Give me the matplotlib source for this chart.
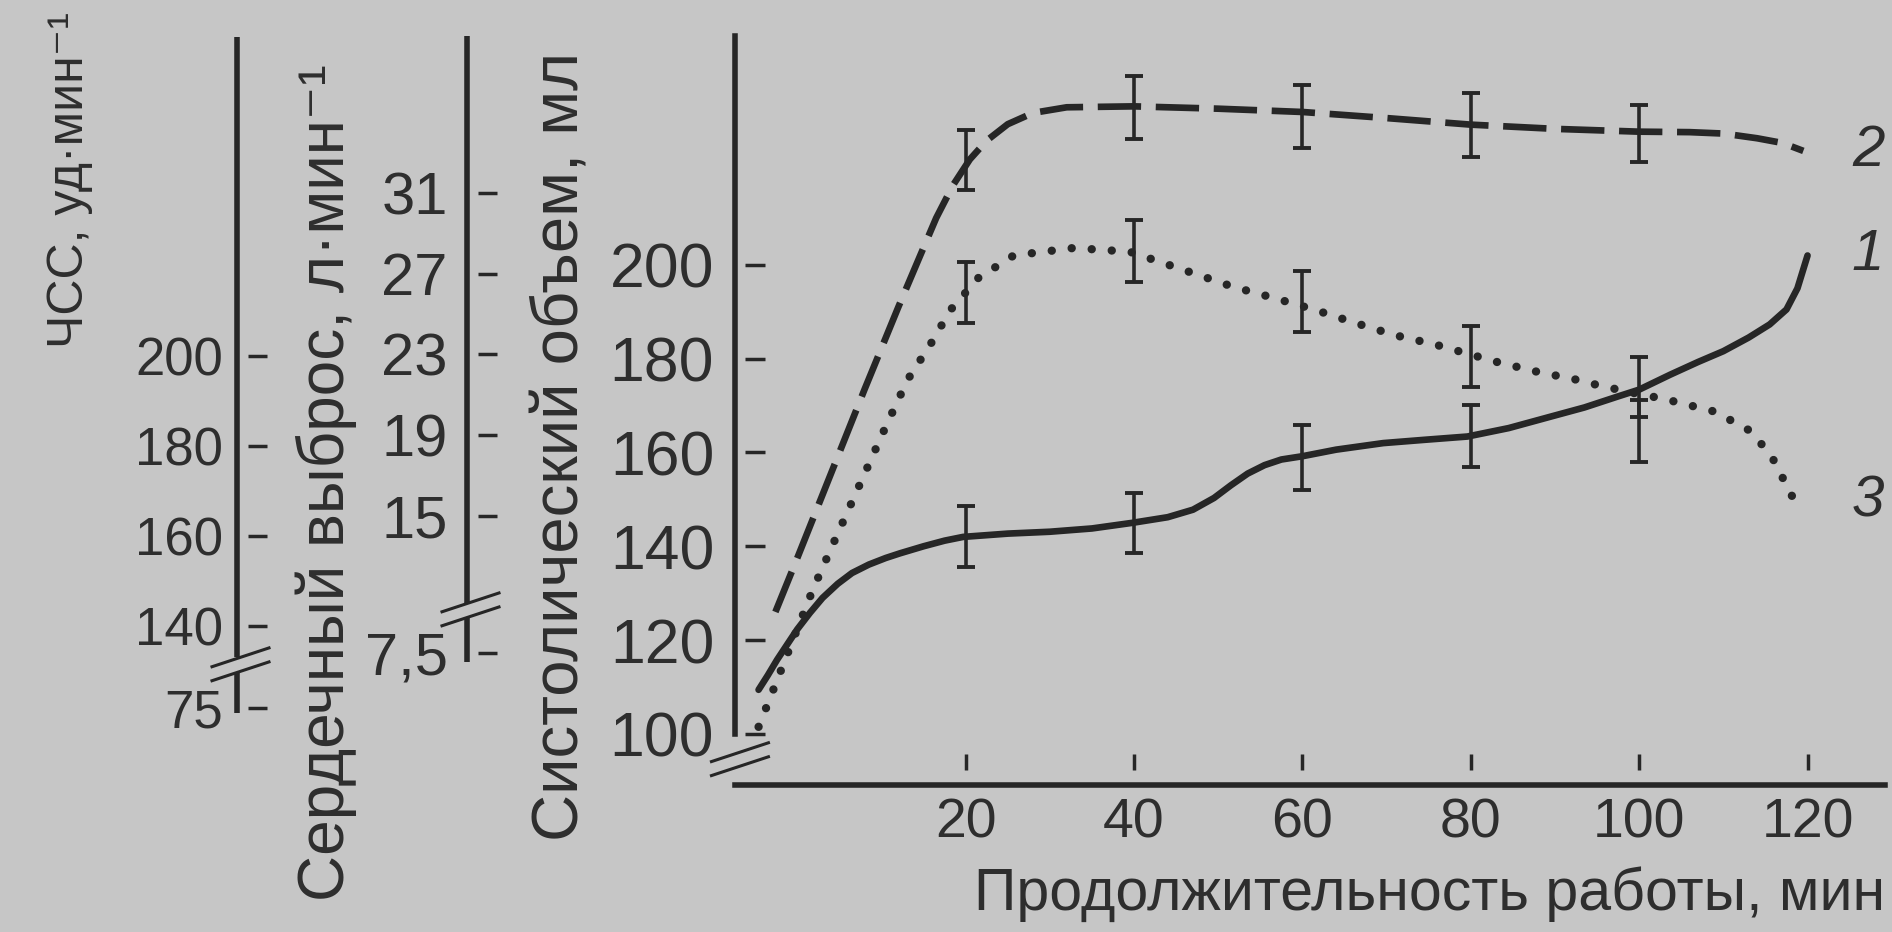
import matplotlib
matplotlib.use("Agg")
import matplotlib.pyplot as plt
from matplotlib.lines import Line2D
from matplotlib.transforms import IdentityTransform

# --- data -----------------------------------------------------------------
# time points with error bars (min)
bar_minutes = [20, 40, 60, 80, 100]

# curve 1 (solid) - ЧСС, drawn on the stroke-volume scale of the main axes
hr_mean = [142.0, 145.0, 159.0, 163.5, 164.6]
hr_err = [6.5, 6.4, 6.9, 6.6, 6.6]
hr_trace_x = [-4.6, -3.5, -2.4, -1.0, 0.0, 1.5, 3.0, 4.8, 6.5, 8.5, 10.5, 12.2, 15.0, 17.5,
              19.7, 25.0, 30.0, 35.0, 39.8, 44.0, 47.0, 49.5, 51.5, 53.5, 55.5, 57.5,
              60.0, 64.0, 69.6, 74.5, 79.6, 84.5, 89.4, 93.5, 97.4, 100.0, 103.7, 107.0,
              110.0, 113.0, 115.5, 117.5, 118.8, 120.0]
hr_trace_y = [109.4, 112.5, 115.8, 119.6, 122.3, 125.8, 129.0, 132.0, 134.3, 136.1, 137.5,
              138.5, 140.0, 141.2, 142.0, 142.7, 143.1, 143.8, 145.0, 146.2, 147.8, 150.3,
              153.0, 155.5, 157.3, 158.5, 159.2, 160.6, 162.0, 162.7, 163.4, 165.2, 167.6,
              169.6, 171.9, 173.4, 176.6, 179.3, 181.6, 184.5, 187.3, 190.5, 195.0, 202.0]

# curve 2 (dashed) - сердечный выброс
co_mean = [222.4, 233.5, 231.6, 229.9, 228.0]
co_err = [6.4, 6.7, 6.7, 6.8, 6.0]
co_trace_x = [-2.6, 0.0, 4.0, 8.0, 12.0, 14.6, 16.5, 18.5, 20.5, 22.5, 25.0, 28.0, 32.0,
              40.0, 50.0, 60.0, 70.0, 80.0, 90.0, 100.0, 106.0, 110.0, 114.0, 117.0, 119.5]
co_trace_y = [126.0, 137.5, 155.5, 173.5, 191.0, 202.0, 210.0, 217.0, 222.5, 226.5, 230.0,
              232.4, 233.6, 233.8, 233.3, 232.6, 231.3, 229.9, 229.0, 228.4, 228.3, 228.0,
              227.0, 226.0, 224.3]

# curve 3 (dotted) - систолический объем
sv_mean = [194.2, 203.0, 192.1, 180.4, 174.0]
sv_err = [6.5, 6.6, 6.5, 6.5, 6.4]
sv_trace_x = [-4.6, -3.6, 1.9, 5.0, 8.0, 10.5, 13.1, 15.8, 18.2, 21.5, 25.7, 32.8, 39.5,
              45.1, 51.8, 56.5, 61.5, 66.3, 71.0, 75.8, 83.1, 87.9, 92.6, 95.0, 99.0,
              103.0, 109.0, 113.2, 115.7, 118.5]
sv_trace_y = [101.5, 106.0, 131.0, 143.5, 155.5, 165.5, 175.5, 183.0, 190.4, 197.2, 202.0,
              203.6, 202.8, 199.4, 195.3, 193.0, 190.4, 187.6, 185.0, 183.0, 179.3, 177.2,
              175.5, 174.4, 172.8, 171.4, 168.7, 164.6, 159.3, 149.5]

curve_names = ["1", "2", "3"]

# axis ticks
x_ticks = [20, 40, 60, 80, 100, 120]
sv_ticks = [100, 120, 140, 160, 180, 200]
hr_ticks = [75, 140, 160, 180, 200]
hr_labels = ["75", "140", "160", "180", "200"]
co_ticks = [7.5, 15, 19, 23, 27, 31]
co_labels = ["7,5", "15", "19", "23", "27", "31"]

# --- style ------------------------------------------------------------------
BG = "#c6c6c6"
INK = "#262626"
TXT = "#2e2e2e"
SPINE_W = 4.0

plt.rcParams["font.family"] = ["Liberation Sans", "DejaVu Sans"]

W, H = 1892, 932
fig = plt.figure(figsize=(W / 100, H / 100), dpi=100, facecolor=BG)


def frac_x(px):
    return px / W


def frac_y(px):
    return 1 - px / H


bottom, top = frac_y(785), frac_y(36)

# main axes (stroke volume scale on the left spine)
ax = fig.add_axes([frac_x(735), bottom, frac_x(1885) - frac_x(735), top - bottom])
ax.set_facecolor("none")
ax.set_xlim(-7.4, 129.2)
ax.set_ylim(89.1, 248.8)
for s in ["top", "right"]:
    ax.spines[s].set_visible(False)
ax.spines["left"].set_bounds(100, 248.8)
for s in ["left", "bottom"]:
    ax.spines[s].set_linewidth(SPINE_W)
    ax.spines[s].set_color(INK)

ax.set_xticks(x_ticks)
ax.set_xticklabels([str(v) for v in x_ticks], fontsize=40, color=TXT)
ax.set_yticks(sv_ticks)
ax.set_yticklabels([str(v) for v in sv_ticks], fontsize=45, color=TXT)
ax.tick_params(axis="x", length=0, pad=9)
ax.tick_params(axis="y", length=0, pad=15)

# detached tick dashes
ax.vlines(x_ticks, 0.02, 0.042, transform=ax.get_xaxis_transform(), color=INK, lw=2.5)
ax.hlines(sv_ticks, 0.009, 0.026, transform=ax.get_yaxis_transform(), color=INK, lw=2.5)

# curves
ax.plot(hr_trace_x, hr_trace_y, color=INK, lw=4.8, solid_capstyle="round",
        solid_joinstyle="round")
ax.plot(co_trace_x, co_trace_y, color=INK, lw=4.8, linestyle=(0, (6.5, 2.2)))
ax.plot(sv_trace_x, sv_trace_y, color=INK, lw=6.0, linestyle=(0, (0.01, 2.4)),
        dash_capstyle="round")

for mean, err in [(hr_mean, hr_err), (co_mean, co_err), (sv_mean, sv_err)]:
    ax.errorbar(bar_minutes, mean, yerr=err, fmt="none", ecolor=INK, elinewidth=2.6,
                capsize=6.5, capthick=2.8)

ends = [hr_trace_y[-1], co_trace_y[-1], sv_trace_y[-1]]
for name, y_end in zip(curve_names, ends):
    ax.text(127.2, y_end, name, fontsize=42, style="italic", color=TXT,
            ha="center", va="center")

ax.text(1.0, -0.145, "Продолжительность работы, мин", transform=ax.transAxes,
        ha="right", va="center", fontsize=42.5, color=TXT)


# side axes (ЧСС and сердечный выброс) with broken spines
def side_axis(left_px, ylim, ticks, labels, shift_below, cut, upper, lower, size, pad):
    a = fig.add_axes([frac_x(left_px), bottom, frac_x(40), top - bottom])
    a.set_facecolor("none")
    a.set_xlim(0, 1)
    a.set_ylim(*ylim)
    for s in a.spines.values():
        s.set_visible(False)
    a.set_xticks([])
    pos = [t + shift_below if t < cut else t for t in ticks]
    a.set_yticks(pos)
    a.set_yticklabels(labels, fontsize=size, color=TXT)
    a.tick_params(axis="y", length=0, pad=pad)
    tr = a.get_yaxis_transform()
    a.vlines(0, upper[0], upper[1], transform=tr, color=INK, lw=SPINE_W, clip_on=False)
    a.vlines(0, lower[0], lower[1], transform=tr, color=INK, lw=SPINE_W, clip_on=False)
    a.hlines(pos, 0.28, 0.75, transform=tr, color=INK, lw=2.5)
    return a


def break_mark(a, x_axes, y_val, half=(-27, 30), gap=7):
    cx, cy = a.get_yaxis_transform().transform((x_axes, y_val))
    for off in (-gap, gap):
        xs = [cx + half[0], cx + half[1]]
        ys = [cy + off + 0.33 * half[0], cy + off + 0.33 * half[1]]
        fig.add_artist(Line2D(xs, ys, transform=IdentityTransform(), color=INK, lw=2.2))


hr_ax = side_axis(237, (104.7, 271.1), hr_ticks, hr_labels, 46.8, 100,
                  (133.1, 270.9), (120.7, 129.8), 38, 10)
co_ax = side_axis(467, (1.68, 38.76), co_ticks, co_labels, 0.72, 10,
                  (10.69, 38.76), (7.77, 10.0), 43, 14)

break_mark(hr_ax, 0.05, 131.4)
break_mark(co_ax, 0.05, 10.35)
break_mark(ax, 0.003, 94.5)

# axis titles
fig.text(frac_x(70), frac_y(180), "ЧСС, уд·мин⁻¹", rotation=90, ha="center", va="center",
         fontsize=36, color=TXT)
fig.text(frac_x(326), frac_y(483), "Сердечный выброс, л·мин⁻¹", rotation=90,
         ha="center", va="center", fontsize=46, color=TXT)
fig.text(frac_x(561), frac_y(446), "Систолический объем, мл", rotation=90,
         ha="center", va="center", fontsize=47, color=TXT)

fig.savefig("out.png", dpi=100, facecolor=BG)
